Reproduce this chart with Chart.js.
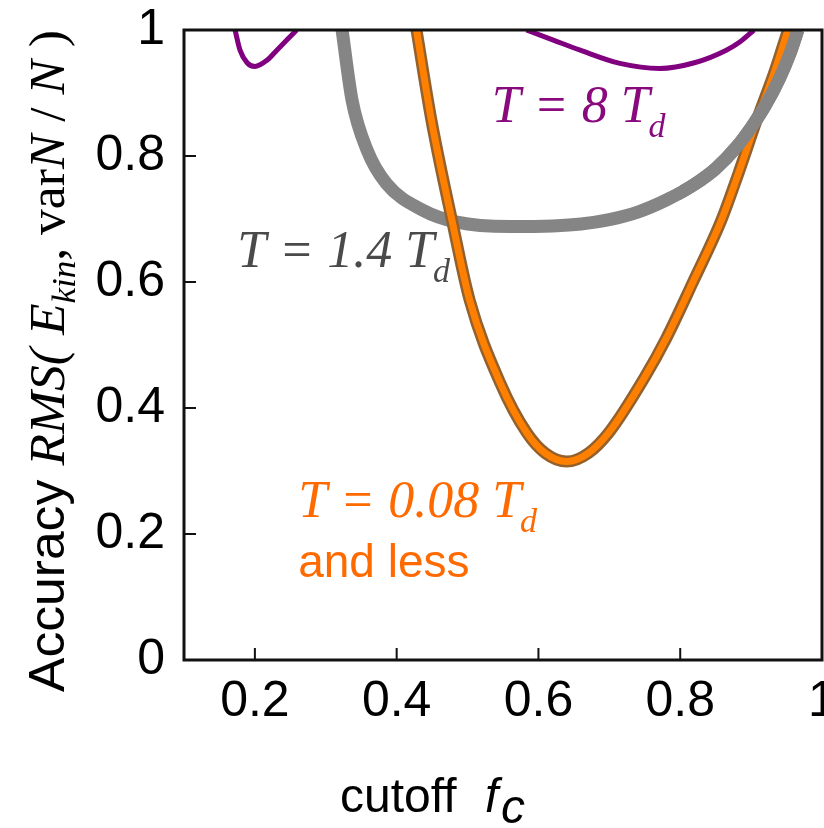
<!DOCTYPE html>
<html>
<head>
<meta charset="utf-8">
<script src="https://cdn.jsdelivr.net/npm/chart.js@4.4.0/dist/chart.umd.min.js"></script>
<style>
  html, body { margin: 0; padding: 0; background: #fff; overflow: hidden; }
  #wrap { width: 840px; height: 828px; }
</style>
</head>
<body>
<div id="wrap"><canvas id="myChart" width="840" height="828"></canvas></div>
<script>
"use strict";

// values (x = cutoff f_c, y = accuracy)
const purpleX = [0.172, 0.179, 0.189, 0.2, 0.217, 0.231, 0.259, 0.42, 0.583, 0.621, 0.659, 0.715, 0.771, 0.82, 0.865, 0.884, 0.904];
const purpleY = [1.0, 0.968, 0.948, 0.942, 0.952, 0.968, 1.0, null, 1.0, 0.984, 0.968, 0.947, 0.939, 0.948, 0.968, 0.981, 1.0];

const grayX = [0.323, 0.337, 0.358, 0.385, 0.437, 0.485, 0.56, 0.62, 0.66, 0.70, 0.74, 0.78, 0.82, 0.85, 0.88, 0.90, 0.92, 0.94, 0.955, 0.966];
const grayY = [1.0, 0.889, 0.81, 0.757, 0.714, 0.695, 0.688, 0.689, 0.692, 0.699, 0.711, 0.73, 0.755, 0.78, 0.815, 0.845, 0.88, 0.923, 0.963, 1.0];

const orangeX = [0.428, 0.449, 0.478, 0.503, 0.546, 0.584, 0.61, 0.64, 0.67, 0.70, 0.75, 0.78, 0.818, 0.858, 0.882, 0.908, 0.934, 0.952];
const orangeY = [1.0, 0.857, 0.698, 0.571, 0.44, 0.36, 0.328, 0.315, 0.328, 0.362, 0.449, 0.51, 0.6, 0.698, 0.772, 0.857, 0.937, 1.0];

const xTicks = [0.2, 0.4, 0.6, 0.8, 1];
const yTicks = [0, 0.2, 0.4, 0.6, 0.8, 1];

const seriesLabels = ["T = 8 T", "T = 1.4 T", "T = 0.08 T"];
const extraLabel = "and less";
const xTitle = ["cutoff", "f", "c"];

const SANS = "'Liberation Sans', Arial, Helvetica, sans-serif";
const SERIF = "'Liberation Serif', 'Times New Roman', serif";

const yTitleParts = [
  { t: "Accuracy ", f: "50px " + SANS, dy: 0 },
  { t: "RMS( ", f: "italic 50px " + SERIF, dy: 0 },
  { t: "E", f: "italic 50px " + SERIF, dy: 0 },
  { t: "kin", f: "italic 34px " + SERIF, dy: 11 },
  { t: ", ", f: "50px " + SERIF, dy: 0 },
  { t: "var", f: "50px " + SERIF, dy: 0 },
  { t: "N", f: "italic 50px " + SERIF, dy: 0 },
  { t: " / ", f: "50px " + SERIF, dy: 0 },
  { t: "N", f: "italic 50px " + SERIF, dy: 0 },
  { t: " )", f: "50px " + SERIF, dy: 0 }
];

function toPoints(xs, ys) {
  return xs.map((x, i) => ({ x: x, y: ys[i] }));
}

function fmt(v) {
  return String(+v.toFixed(1));
}

// T = .. T_d with subscript d
function drawSub(ctx, x, y, main, sub, size, color) {
  ctx.fillStyle = color;
  ctx.textAlign = "left";
  ctx.textBaseline = "alphabetic";
  ctx.font = "italic " + size + "px " + SERIF;
  ctx.fillText(main, x, y);
  const w = ctx.measureText(main).width;
  ctx.font = "italic " + Math.round(size * 0.66) + "px " + SERIF;
  ctx.fillText(sub, x + w - 1, y + 15);
}

const framePlugin = {
  id: "frame",
  afterDatasetsDraw(chart) {
    const ctx = chart.ctx;
    const a = chart.chartArea;
    const xs = chart.scales.x;
    const ys = chart.scales.y;

    // gray curve lies over the orange one near the top right corner
    ctx.save();
    ctx.beginPath();
    ctx.rect(xs.getPixelForValue(0.8), a.top, a.right - xs.getPixelForValue(0.8), a.bottom - a.top);
    ctx.clip();
    chart.getDatasetMeta(2).controller.draw();
    ctx.restore();

    ctx.save();
    ctx.strokeStyle = "#111";
    ctx.lineWidth = 2;
    // inward ticks
    ctx.beginPath();
    xTicks.forEach((v) => {
      const px = xs.getPixelForValue(v);
      ctx.moveTo(px, a.bottom);
      ctx.lineTo(px, a.bottom - 12);
    });
    yTicks.forEach((v) => {
      const py = ys.getPixelForValue(v);
      ctx.moveTo(a.left, py);
      ctx.lineTo(a.left + 12, py);
    });
    ctx.stroke();
    ctx.lineWidth = 3;
    ctx.strokeRect(a.left, a.top, a.right - a.left, a.bottom - a.top);
    ctx.restore();
  },
  afterDraw(chart) {
    const ctx = chart.ctx;
    const xs = chart.scales.x;
    const ys = chart.scales.y;
    ctx.save();

    // curve labels, anchored in data units
    drawSub(ctx, xs.getPixelForValue(0.534), ys.getPixelForValue(0.854), seriesLabels[0], "d", 52, "#880a7c");
    drawSub(ctx, xs.getPixelForValue(0.175), ys.getPixelForValue(0.624), seriesLabels[1], "d", 52, "#4a4a4a");
    drawSub(ctx, xs.getPixelForValue(0.261), ys.getPixelForValue(0.227), seriesLabels[2], "d", 52, "#ff6a00");
    ctx.font = "46px " + SANS;
    ctx.fillStyle = "#ff6a00";
    ctx.fillText(extraLabel, xs.getPixelForValue(0.261), ys.getPixelForValue(0.132));

    // x title
    ctx.fillStyle = "#000";
    ctx.font = "48px " + SANS;
    ctx.fillText(xTitle[0], 340, 812);
    ctx.font = "italic 48px " + SANS;
    ctx.fillText(xTitle[1], 485, 812);
    ctx.fillText(xTitle[2], 501, 823);

    // y title, rotated
    ctx.translate(64, 692);
    ctx.rotate(-Math.PI / 2);
    let total = 0;
    yTitleParts.forEach((p) => {
      ctx.font = p.f;
      total += ctx.measureText(p.t).width;
    });
    ctx.scale(662 / total, 1);
    let pos = 0;
    yTitleParts.forEach((p) => {
      ctx.font = p.f;
      ctx.fillText(p.t, pos, p.dy);
      pos += ctx.measureText(p.t).width;
    });
    ctx.restore();
  }
};

const common = {
  showLine: true,
  pointRadius: 0,
  pointHoverRadius: 0,
  fill: false,
  cubicInterpolationMode: "monotone",
  spanGaps: false,
  clip: 0,
  borderCapStyle: "butt",
  borderJoinStyle: "round"
};

const config = {
  type: "scatter",
  data: {
    datasets: [
      Object.assign({ label: "orange", data: toPoints(orangeX, orangeY), borderColor: "#ff8000", borderWidth: 7, order: 0 }, common),
      Object.assign({ label: "orange edge", data: toPoints(orangeX, orangeY), borderColor: "#94602c", borderWidth: 12, order: 1 }, common),
      Object.assign({ label: "gray", data: toPoints(grayX, grayY), borderColor: "#858585", borderWidth: 13, order: 2 }, common),
      Object.assign({ label: "purple", data: toPoints(purpleX, purpleY), borderColor: "#800080", borderWidth: 5, order: 3 }, common)
    ]
  },
  options: {
    responsive: false,
    animation: false,
    devicePixelRatio: 1,
    layout: { padding: { top: 30, right: 18, left: 0, bottom: 0 } },
    plugins: {
      legend: { display: false },
      tooltip: { enabled: false },
      title: { display: false }
    },
    scales: {
      x: {
        type: "linear",
        min: 0.1,
        max: 1,
        grid: { display: false, drawTicks: false },
        border: { display: false },
        afterBuildTicks: (s) => { s.ticks = xTicks.map((v) => ({ value: v })); },
        afterFit: (s) => { s.height = 168; s.paddingLeft = 0; s.paddingRight = 0; },
        ticks: {
          color: "#000",
          padding: 12,
          maxRotation: 0,
          font: { family: SANS, size: 50 },
          callback: (v) => fmt(v)
        }
      },
      y: {
        type: "linear",
        min: 0,
        max: 1,
        grid: { display: false, drawTicks: false },
        border: { display: false },
        afterBuildTicks: (s) => { s.ticks = yTicks.map((v) => ({ value: v })); },
        afterFit: (s) => { s.width = 184; s.paddingTop = 0; s.paddingBottom = 0; },
        ticks: {
          color: "#000",
          padding: 19,
          font: { family: SANS, size: 50 },
          callback: (v) => fmt(v)
        }
      }
    }
  },
  plugins: [framePlugin]
};

let chart = new Chart(document.getElementById("myChart"), config);
</script>
</body>
</html>
